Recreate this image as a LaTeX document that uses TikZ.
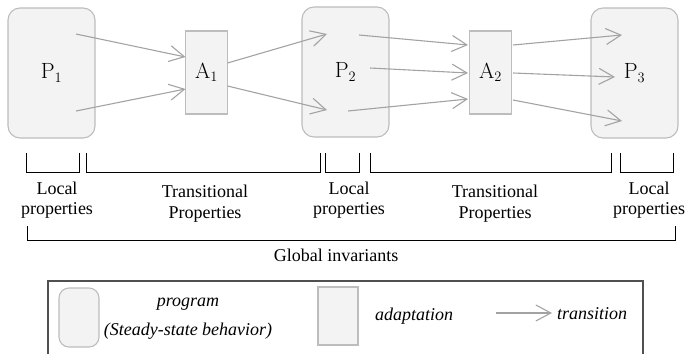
\documentclass[tikz,border=0pt]{standalone}
\usepackage{fontspec}
\newfontfamily\tms{Liberation Serif}
\usetikzlibrary{arrows.meta}
\definecolor{boxfill}{HTML}{F3F3F3}
\definecolor{boxline}{HTML}{BDBDBD}
\definecolor{arrgray}{HTML}{A3A3A3}
\definecolor{legline}{HTML}{505050}
\begin{document}
\begin{tikzpicture}[x=1pt,y=-1pt,
  prog/.style={draw=boxline,fill=boxfill,line width=1.1pt,rounded corners=12pt,
    minimum width=87pt,minimum height=130pt,inner sep=0pt,outer sep=0pt,
    font=\fontsize{22}{26}\selectfont},
  adapt/.style={draw=boxline,fill=boxfill,line width=1.1pt,
    minimum width=42pt,minimum height=83pt,inner sep=0pt,outer sep=0pt,
    font=\fontsize{22}{26}\selectfont},
  trans/.style={draw=arrgray,line width=1.1pt,-{Straight Barb[length=15pt,width=16pt,line width=1.1pt]}},
  brk/.style={draw=black,line width=0.9pt},
  lbl/.style={font=\tms\fontsize{18}{20.5}\selectfont,align=center,inner sep=0pt},
  leg/.style={font=\tms\itshape\fontsize{18}{29}\selectfont,align=center,inner sep=0pt}]
\useasboundingbox (0,0) rectangle (687,353);
% main nodes
\node[prog] (P1) at (51.5,73) {P$_1$};
\node[adapt] (A1) at (206.5,72.5) {A$_1$};
\node[prog] (P2) at (345.5,72) {P$_2$};
\node[adapt] (A2) at (490.5,72.5) {A$_2$};
\node[prog] (P3) at (634.5,73) {P$_3$};
% endpoints inside programs
\coordinate (p1a) at (76,34);
\coordinate (p1b) at (76,111);
\coordinate (p2in1) at (327,34);
\coordinate (p2in2) at (327,110);
\coordinate (p2o1) at (359,35);
\coordinate (p2o2) at (370,68);
\coordinate (p2o3) at (348,111);
\coordinate (p3in1) at (622,35);
\coordinate (p3in2) at (615,77);
\coordinate (p3in3) at (622,121);
% endpoints on adaptations
\coordinate (a1w1) at (185.5,57);
\coordinate (a1w2) at (185.5,89);
\coordinate (a1e1) at (227.5,63);
\coordinate (a1e2) at (227.5,86);
\coordinate (a2w1) at (468,45);
\coordinate (a2w2) at (468,73);
\coordinate (a2w3) at (468,99);
\coordinate (a2e1) at (513,45);
\coordinate (a2e2) at (513,73);
\coordinate (a2e3) at (513,100);
% transitions
\draw[trans] (p1a) -- (a1w1);
\draw[trans] (p1b) -- (a1w2);
\draw[trans] (a1e1) -- (p2in1);
\draw[trans] (a1e2) -- (p2in2);
\draw[trans] (p2o1) -- (a2w1);
\draw[trans] (p2o2) -- (a2w2);
\draw[trans] (p2o3) -- (a2w3);
\draw[trans] (a2e1) -- (p3in1);
\draw[trans] (a2e2) -- (p3in2);
\draw[trans] (a2e3) -- (p3in3);
% brackets
\draw[brk] (26,153) -- (26,172) -- (79,172) -- (79,153);
\draw[brk] (86,153) -- (86,172) -- (320,172) -- (320,153);
\draw[brk] (325,153) -- (325,172) -- (359,172) -- (359,153);
\draw[brk] (370,153) -- (370,172) -- (611,172) -- (611,153);
\draw[brk] (620,153) -- (620,172) -- (673,172) -- (673,153);
\draw[brk] (27,226) -- (27,240) -- (675,240) -- (675,226);
\node[lbl] (loc1) at (57,200) {Local\\properties};
\node[lbl] (tr1) at (205,203.5) {Transitional\\Properties};
\node[lbl] (loc2) at (349,200) {Local\\properties};
\node[lbl] (tr2) at (495,203.5) {Transitional\\Properties};
\node[lbl] (loc3) at (649,200) {Local\\properties};
\node[lbl] (glob) at (336,255) {Global invariants};
% legend
\draw[draw=legline,line width=1.3pt] (48,360) -- (48,281) -- (643,281) -- (643,360);
\node[prog,minimum width=40pt,minimum height=59pt,rounded corners=10pt] (lp) at (79,317.5) {};
\node[leg] (lpt) at (188,319) {program\\(Steady-state behavior)};
\node[adapt,minimum width=40pt,minimum height=58pt] (la) at (338,316) {};
\node[leg] (lat) at (414,316) {adaptation};
\coordinate (lt1) at (496,313);
\coordinate (lt2) at (552,313);
\draw[trans] (lt1) -- (lt2);
\node[leg,anchor=west] (ltt) at (557,314) {transition};
\end{tikzpicture}
\end{document}
